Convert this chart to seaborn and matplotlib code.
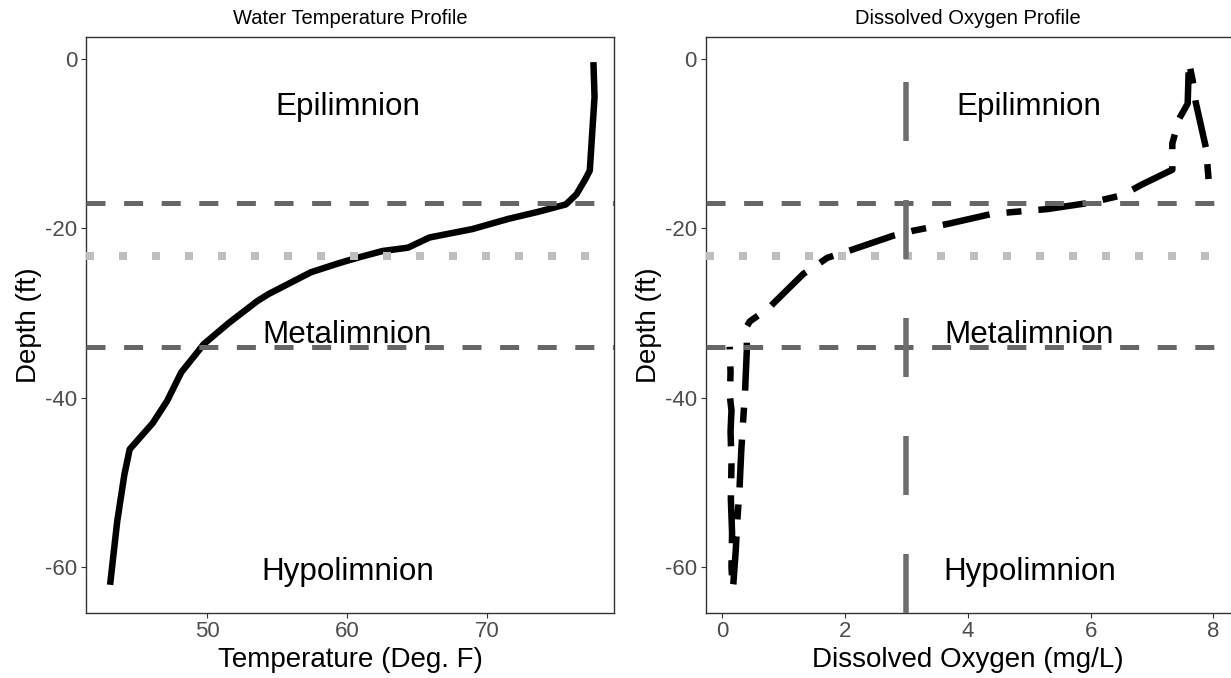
import numpy as np
import pandas as pd
import matplotlib
matplotlib.use("Agg")
import matplotlib.pyplot as plt
import seaborn as sns

# ---------------- data ----------------
temp_f = [77.57, 77.65, 77.31, 77.0, 76.36, 75.6, 73.55, 71.5, 68.94, 65.86,
          65.35, 64.33, 62.5, 60.7, 59.46, 57.4, 54.34, 53.57, 51.52, 49.73,
          49.16, 48.14, 47.12, 46.1, 44.45, 44.07, 43.56, 43.05]
temp_depth = [-0.4, -4.5, -13.2, -14.2, -16.0, -17.2, -18.1, -18.9, -20.1, -21.1,
              -21.5, -22.3, -22.7, -23.5, -24.1, -25.2, -27.8, -28.6, -31.2, -33.7,
              -34.9, -37.0, -40.4, -43.0, -46.1, -49.1, -54.6, -62.1]

do_mgl = [7.92, 7.88, 7.71, 7.66, 7.60, 7.58, 7.44, 7.33, 7.33, 6.82,
          6.52, 5.99, 5.29, 4.73, 4.40, 3.67, 3.11, 2.78, 2.05, 1.71,
          1.55, 1.32, 0.76, 0.45, 0.40, 0.40, 0.37, 0.34, 0.31, 0.28,
          0.245, 0.22, 0.18, 0.17, 0.15, 0.16, 0.14, 0.15, 0.135, 0.15,
          0.125, 0.135, 0.12]
do_depth = [-14.2, -10.6, -5.1, -2.5, -0.4, -5.3, -7.1, -10.0, -13.1, -14.9,
            -16.1, -17.0, -17.75, -18.1, -18.3, -19.5, -20.3, -20.9, -22.7, -23.5,
            -24.3, -25.4, -29.4, -31.0, -31.6, -34.4, -39.5, -42.7, -46.2, -50.9,
            -54.5, -58.0, -62.0, -62.5, -60.0, -56.0, -52.0, -47.8, -44.0, -41.5,
            -39.9, -37.0, -34.0]

thermocline_bounds = [-17.0, -34.0]
thermocline_mid = -23.3
do_threshold = 3.0

zone_labels = ["Epilimnion", "Metalimnion", "Hypolimnion"]
zone_label_depth = [-6.7, -33.5, -61.5]
temp_label_x = 60
do_label_x = 5

temp_ticks = [50, 60, 70]
do_ticks = [0, 2, 4, 6, 8]
depth_ticks = [0, -20, -40, -60]

# ---------------- style ----------------
sns.set_theme(style="white")
plt.rcParams["font.family"] = ["Liberation Sans", "DejaVu Sans"]
plt.rcParams["lines.scale_dashes"] = False
plt.rcParams["axes.unicode_minus"] = False

W, H = 1231, 678
fig = plt.figure(figsize=(W / 100, H / 100), dpi=100)

def px(v):
    return v * 0.72  # pixels -> points at 100 dpi

top_px, bot_px = 36.7, 612.8
ax1 = fig.add_axes([86 / W, (H - bot_px) / H, 528 / W, (bot_px - top_px) / H])
ax2 = fig.add_axes([705.5 / W, (H - bot_px) / H, (W - 705.5) / W, (bot_px - top_px) / H])

temp_df = pd.DataFrame({"temp": temp_f, "depth": temp_depth})
do_df = pd.DataFrame({"do": do_mgl, "depth": do_depth})

sns.lineplot(data=temp_df, x="temp", y="depth", sort=False, estimator=None,
             color="black", linewidth=px(6.5), ax=ax1,
             solid_capstyle="butt", solid_joinstyle="round")
sns.lineplot(data=do_df, x="do", y="depth", sort=False, estimator=None,
             color="black", linewidth=px(6.5), ax=ax2,
             dash_capstyle="butt", dash_joinstyle="round")
ax2.lines[-1].set_dashes([px(15), px(17), px(48), px(17)])

for ax in (ax1, ax2):
    for yv in thermocline_bounds:
        l = ax.axhline(yv, color="#666666", linewidth=px(5), zorder=5)
        l.set_dashes([px(19), px(18.6)])
        l.set_dash_capstyle("butt")
    l = ax.axhline(thermocline_mid, color="#BEBEBE", linewidth=px(8), zorder=5)
    l.set_dashes([px(8), px(25)])
    l.set_dash_capstyle("butt")

lv = ax2.axvline(do_threshold, color="#6E6E6E", linewidth=px(5.5), zorder=5)
lv.set_dashes([px(59), px(59)])
lv.set_dash_capstyle("butt")

for lab, yv in zip(zone_labels, zone_label_depth):
    ax1.text(temp_label_x, yv, lab, ha="center", va="baseline",
             fontsize=22.6, color="black", zorder=10)
    ax2.text(do_label_x, yv, lab, ha="center", va="baseline",
             fontsize=22.6, color="black", zorder=10)

ax1.set_xlim(41.33, 79.04)
ax2.set_xlim(-0.273, -0.273 + (W - 705.5) / 61.4)
for ax in (ax1, ax2):
    ax.set_ylim(-65.4, 2.6)
    ax.set_yticks(depth_ticks)
    ax.set_yticklabels([str(t) for t in depth_ticks])
    for s in ax.spines.values():
        s.set_color("#333333")
        s.set_linewidth(1.0)
    ax.tick_params(axis="both", which="both", direction="out", length=3.3,
                   width=0.8, color="#333333", labelcolor="#4D4D4D",
                   labelsize=16, left=True, bottom=True)
    ax.tick_params(axis="x", pad=2.5)
    ax.tick_params(axis="y", pad=3)
    ax.set_ylabel("Depth (ft)", fontsize=20, color="black", labelpad=2)
    ax.grid(False)

# the right panel's border falls just outside the image in the reference
ax2.spines["right"].set_visible(False)

ax1.set_xticks(temp_ticks)
ax1.set_xticklabels([str(t) for t in temp_ticks])
ax2.set_xticks(do_ticks)
ax2.set_xticklabels([str(t) for t in do_ticks])

ax1.set_xlabel("Temperature (Deg. F)", fontsize=20, color="black", labelpad=4)
ax2.set_xlabel("Dissolved Oxygen (mg/L)", fontsize=20, color="black", labelpad=4)
ax1.set_title("Water Temperature Profile", fontsize=14.5, color="black", pad=9)
ax2.set_title("Dissolved Oxygen Profile", fontsize=14.5, color="black", pad=9)

fig.savefig("out.png", dpi=100)
